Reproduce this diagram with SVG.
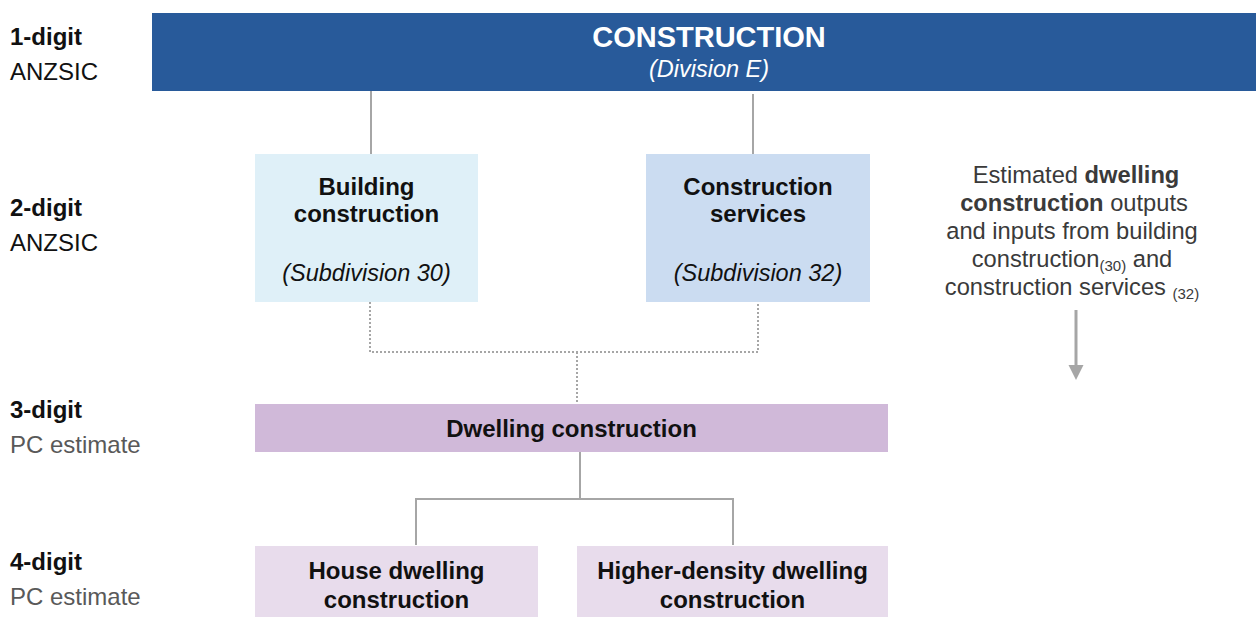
<svg xmlns="http://www.w3.org/2000/svg" width="1256" height="617" viewBox="0 0 1256 617">
<style>
text{font-family:"Liberation Sans",Arial,sans-serif;}
.lvl{font-size:24px;font-weight:bold;fill:#111;}
.sub{font-size:24px;fill:#111;}
.subg{font-size:24px;fill:#595959;}
.nb{font-size:24px;font-weight:bold;fill:#111;text-anchor:middle;}
.ni{font-size:23.5px;font-style:italic;fill:#111;text-anchor:middle;}
.solid{stroke:#a6a6a6;stroke-width:2;fill:none;}
.dot{stroke:#a6a6a6;stroke-width:2;fill:none;stroke-dasharray:2 2;}
.note{font-size:23.7px;fill:#3a3a3a;text-anchor:middle;}
.sm{font-size:15px;}
</style>
<rect width="1256" height="617" fill="#ffffff"/>
<g id="labels">
<text class="lvl" x="10" y="45">1-digit</text>
<text class="sub" x="10" y="80">ANZSIC</text>
<text class="lvl" x="10" y="216">2-digit</text>
<text class="sub" x="10" y="251">ANZSIC</text>
<text class="lvl" x="10" y="418">3-digit</text>
<text class="subg" x="10" y="453">PC estimate</text>
<text class="lvl" x="10" y="570">4-digit</text>
<text class="subg" x="10" y="605">PC estimate</text>
</g>
<g id="connectors">
<line class="solid" x1="371" y1="91" x2="371" y2="154"/>
<line class="solid" x1="753" y1="94" x2="753" y2="154"/>
<polyline class="dot" points="370,302 370,352 758,352 758,302"/>
<line class="dot" x1="577" y1="352" x2="577" y2="404"/>
<line class="solid" x1="580" y1="452" x2="580" y2="499"/>
<polyline class="solid" points="416,545 416,499 733,499 733,545"/>
<line stroke="#a6a6a6" stroke-width="3" x1="1076" y1="310" x2="1076" y2="368"/>
<path d="M1068.5,365 L1083.5,365 L1076,380 Z" fill="#a6a6a6"/>
</g>
<g id="construction">
<rect x="152" y="13" width="1104" height="78" fill="#285a9a"/>
<text x="709" y="47" font-size="29px" font-weight="bold" fill="#ffffff" text-anchor="middle">CONSTRUCTION</text>
<text x="709" y="77" font-size="23.5px" font-style="italic" fill="#ffffff" text-anchor="middle">(Division E)</text>
</g>
<g id="building">
<rect x="255" y="154" width="223" height="148" fill="#dff0f8"/>
<text class="nb" x="366.5" y="195">Building</text>
<text class="nb" x="366.5" y="222">construction</text>
<text class="ni" x="366.5" y="281">(Subdivision 30)</text>
</g>
<g id="services">
<rect x="646" y="154" width="224" height="148" fill="#cbdcf1"/>
<text class="nb" x="758" y="195">Construction</text>
<text class="nb" x="758" y="222">services</text>
<text class="ni" x="758" y="281">(Subdivision 32)</text>
</g>
<g id="dwelling">
<rect x="255" y="404" width="633" height="48" fill="#d0b9d9"/>
<text class="nb" x="571.5" y="437">Dwelling construction</text>
</g>
<g id="house">
<rect x="255" y="546" width="283" height="71" fill="#e8dcec"/>
<text class="nb" x="396.5" y="579">House dwelling</text>
<text class="nb" x="396.5" y="608">construction</text>
</g>
<g id="higher">
<rect x="577" y="546" width="311" height="71" fill="#e8dcec"/>
<text class="nb" x="732.5" y="579">Higher-density dwelling</text>
<text class="nb" x="732.5" y="608">construction</text>
</g>
<g id="note">
<text class="note" x="1076" y="183">Estimated <tspan font-weight="bold">dwelling</tspan></text>
<text class="note" x="1074" y="211"><tspan font-weight="bold">construction</tspan> outputs</text>
<text class="note" x="1072" y="239">and inputs from building</text>
<text class="note" x="1072" y="267">construction<tspan class="sm" dy="4">(30)</tspan><tspan dy="-4"> and</tspan></text>
<text class="note" x="1072" y="295">construction services <tspan class="sm" dy="4">(32)</tspan></text>
</g>
</svg>
